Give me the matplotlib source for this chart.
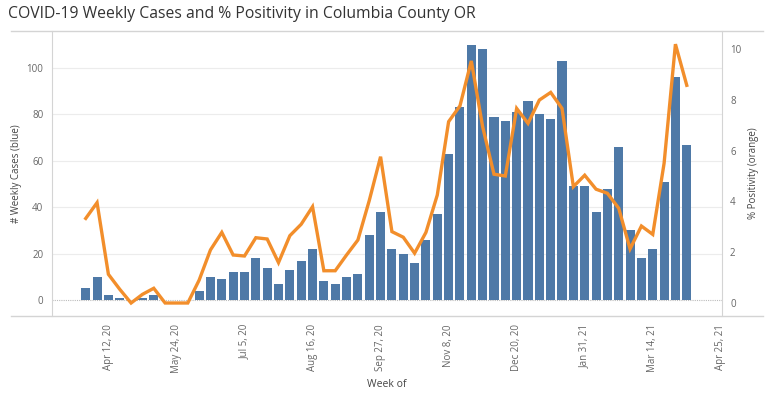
import numpy as np
import pandas as pd
import matplotlib.pyplot as plt
import matplotlib.dates as mdates
from matplotlib.lines import Line2D

plt.rcParams['font.family'] = ['Open Sans', 'DejaVu Sans']

# week starts (Sundays), first week = Mar 29, 2020
weeks = pd.date_range('2020-03-29', periods=54, freq='7D')

cases = [5, 10, 2, 1, 0, 1, 2, 0, 0, 0,
         4, 10, 9, 12, 12, 18, 14, 7, 13, 17,
         22, 8, 7, 10, 11, 28, 38, 22, 20, 16,
         26, 37, 63, 83, 110, 108, 79, 77, 81, 86,
         80, 78, 103, 49, 49, 38, 48, 66, 30, 18,
         22, 51, 96, 67]

positivity = [3.33, 3.95, 1.13, 0.54, 0.0, 0.34, 0.58, 0.0, 0.0, 0.0,
              0.9, 2.09, 2.78, 1.89, 1.85, 2.57, 2.52, 1.59, 2.65, 3.1,
              3.79, 1.27, 1.27, 1.89, 2.48, 4.03, 5.76, 2.81, 2.59, 1.96,
              2.78, 4.25, 7.14, 7.76, 9.53, 6.94, 5.07, 5.0, 7.66, 7.07,
              7.99, 8.29, 7.66, 4.58, 5.03, 4.48, 4.32, 3.73, 2.13, 3.03,
              2.7, 5.5, 10.19, 8.57]

tick_dates = pd.date_range('2020-04-12', periods=10, freq='42D')

blue = '#4e79a7'
orange = '#f28e2b'
grid_c = '#ececec'
line_c = '#d4d4d4'
txt_c = '#666666'

fig = plt.figure(figsize=(7.68, 3.93), dpi=100)
W, H = 768, 393
x0, x1 = 51.7, 721.7
y_top, y_bot = 30.7, 315.7
ax = fig.add_axes([x0 / W, 1 - y_bot / H, (x1 - x0) / W, (y_bot - y_top) / H])
ax2 = ax.twinx()

ax.bar(weeks, cases, width=5.6, color=blue, zorder=2)
ax2.plot(weeks, positivity, color=orange, lw=2.4, solid_joinstyle='miter', zorder=3)

ax.set_xlim(weeks[0] - pd.Timedelta(days=21), weeks[0] + pd.Timedelta(days=7 * 56.08))
ax.set_ylim(-6.77, 116.1)
ax2.set_ylim(-0.5, 10.72)

ax.set_yticks([0, 20, 40, 60, 80, 100])
ax2.set_yticks([0, 2, 4, 6, 8, 10])
ax.set_xticks(tick_dates)
ax.xaxis.set_major_formatter(mdates.DateFormatter('%b %-d, %y'))
for lab in ax.get_xticklabels():
    lab.set_rotation(90)

ax.tick_params(axis='both', length=0, labelsize=7, labelcolor=txt_c)
ax.tick_params(axis='y', pad=6)
ax.tick_params(axis='x', pad=6)
ax2.tick_params(axis='y', length=0, labelsize=7, labelcolor=txt_c, pad=6)

for v in [20, 40, 60, 80, 100]:
    ax.axhline(v, color=grid_c, lw=0.8, zorder=0)
ax.axhline(0, color='#bbbbbb', lw=0.8, ls=(0, (1, 1)), zorder=1)

for a in (ax, ax2):
    for s in a.spines.values():
        s.set_visible(False)
ax.spines['left'].set_visible(True)
ax.spines['left'].set_color(line_c)
ax2.spines['right'].set_visible(True)
ax2.spines['right'].set_color(line_c)

ax.set_ylabel('# Weekly Cases (blue)', fontsize=7, color='#444444', labelpad=3)
ax2.set_ylabel('% Positivity (orange)', fontsize=7, color='#444444', labelpad=5)
ax.set_xlabel('Week of', fontsize=7.5, color='#444444', labelpad=4)

# frame lines above and below the plot
fig.add_artist(Line2D([11 / W, 763 / W], [1 - y_top / H] * 2, color=line_c, lw=1))
fig.add_artist(Line2D([11 / W, 763 / W], [1 - y_bot / H] * 2, color=line_c, lw=1))

fig.text(8 / W, 1 - 14 / H, 'COVID-19 Weekly Cases and % Positivity in Columbia County OR',
         fontsize=11.3, color='#333333', va='center', ha='left')

fig.savefig('out.png', dpi=100)
